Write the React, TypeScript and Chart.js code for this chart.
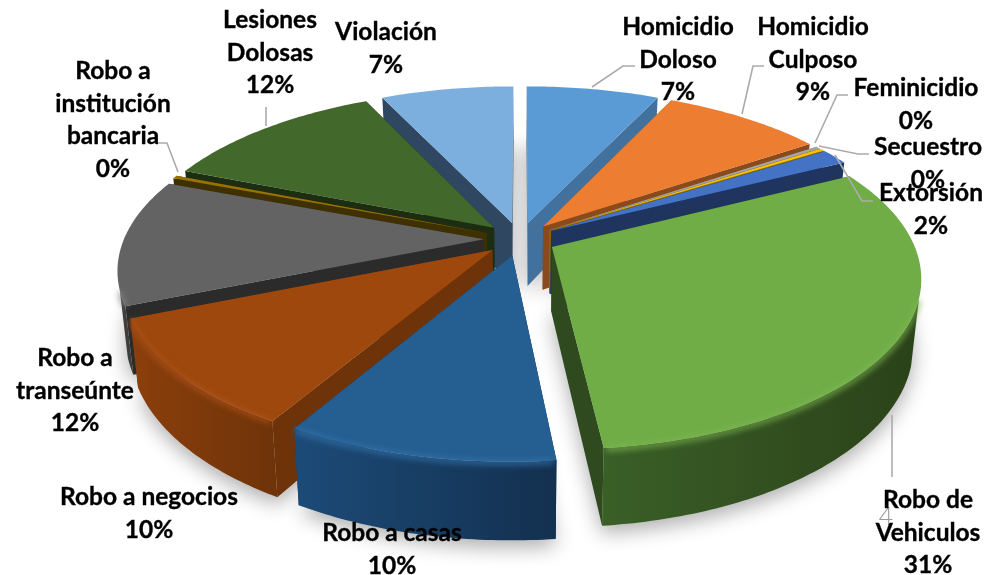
import React, { useEffect, useRef } from "react";
import { Chart, registerables } from "chart.js";

Chart.register(...registerables);

const categories = [
  "Homicidio Doloso", "Homicidio Culposo", "Feminicidio", "Secuestro", "Extorsión",
  "Robo de Vehiculos", "Robo a casas", "Robo a negocios", "Robo a transeúnte",
  "Robo a institución bancaria", "Lesiones Dolosas", "Violación",
];
const values = [7, 8.5, 0.25, 0.25, 1.5, 30.85, 10.05, 10.4, 12, 0.3, 11.9, 7];

const topColors = ["#5B9BD5", "#ED7D31", "#A5A5A5", "#FFC000", "#4472C4", "#70AD47", "#255E91", "#9E480E", "#636363", "#997300", "#43682B", "#7CAFDD"];
const sideColors = ["#41719C", "#8A4A1C", "#6E6E6E", "#8A6A00", "#1F3560", "#2E4A1E", "#163A5C", "#6E3309", "#2B2B2B", "#3F3000", "#1C2D12", "#2F4760"];
const wallLeft = ["#41719C", "#A85A24", "#777777", "#B08900", "#2A4A8A", "#3A5F27", "#1C4B78", "#8C3F0C", "#3E3E3E", "#6B5100", "#2F491E", "#50789C"];
const wallRight = ["#41719C", "#A85A24", "#777777", "#B08900", "#2A4A8A", "#2B4219", "#13304F", "#6E3309", "#3E3E3E", "#6B5100", "#2F491E", "#50789C"];
const edgeColors = ["#6FAADF", "#F39A5A", "#BBBBBB", "#FFD040", "#5C88D8", "#7DB852", "#3576AE", "#B0541A", "#808080", "#B08A10", "#5A8040", "#9CC4E8"];

const labelLines: Record<string, string[]> = {
  "Homicidio Doloso": ["Homicidio", "Doloso"],
  "Homicidio Culposo": ["Homicidio", "Culposo"],
  "Feminicidio": ["Feminicidio"],
  "Secuestro": ["Secuestro"],
  "Extorsión": ["Extorsión"],
  "Robo de Vehiculos": ["Robo de", "Vehiculos"],
  "Robo a casas": ["Robo a casas"],
  "Robo a negocios": ["Robo a negocios"],
  "Robo a transeúnte": ["Robo a", "transeúnte"],
  "Robo a institución bancaria": ["Robo a", "institución", "bancaria"],
  "Lesiones Dolosas": ["Lesiones", "Dolosas"],
  "Violación": ["Violación"],
};
const labelX = [678, 813, 916, 928, 931, 928, 392, 149, 75, 113, 270, 386];
const labelY = [27, 27, 88, 147, 193, 500, 533, 497, 358, 71, 20, 32];
const LINE_H = 32.7;

const leaders: number[][][] = [
  [[592, 87], [623, 66], [635, 66]],
  [[742, 114], [753, 66], [764, 66]],
  [[815, 143], [837, 95], [848, 95]],
  [[819, 146], [858, 154], [869, 154]],
  [[835, 155], [862, 201], [873, 201]],
  [[266, 126], [266, 107]],
  [[178, 172], [167, 143], [155, 143]],
  [[892, 415], [892, 477]],
];

const CX = 520, CY = 239, RX = 360, KY = 165, PERSP = 0.17, DEPTH = 64, EXPLODE = 0.1, BOTTOM_X = 0.98;
const WALL_FROM = (107 - 90) * Math.PI / 180;
const WALL_TO = (253 - 90) * Math.PI / 180;

function proj(u: number, v: number, z: number) {
  const s = 1 / (1 - PERSP * v);
  return { x: CX + RX * u * s * (z ? BOTTOM_X : 1), y: CY + KY * v * s + z * DEPTH * s };
}

const pie3d = {
  id: "pie3d",
  beforeDatasetDraw(chart: any) {
    const ctx: CanvasRenderingContext2D = chart.ctx;
    const meta = chart.getDatasetMeta(0);
    const slices = meta.data.map((el: any, i: number) => {
      const mid = (el.startAngle + el.endAngle) / 2;
      return { i, a0: el.startAngle, a1: el.endAngle, mid, ou: EXPLODE * Math.cos(mid), ov: EXPLODE * Math.sin(mid) };
    });
    const arcPts = (s: any, a0: number, a1: number, z: number) => {
      const n = Math.max(2, Math.ceil((a1 - a0) / 0.015));
      const out = [];
      for (let k = 0; k <= n; k++) {
        const a = a0 + ((a1 - a0) * k) / n;
        out.push(proj(s.ou + Math.cos(a), s.ov + Math.sin(a), z));
      }
      return out;
    };
    const poly = (pts: any[]) => {
      ctx.beginPath();
      pts.forEach((p, k) => (k ? ctx.lineTo(p.x, p.y) : ctx.moveTo(p.x, p.y)));
      ctx.closePath();
    };
    ctx.save();
    ctx.shadowColor = "rgba(0,0,0,0.32)";
    ctx.shadowBlur = 20;
    ctx.shadowOffsetY = 7;
    for (const s of slices) {
      const apex = proj(s.ou, s.ov, 1);
      poly([apex, ...arcPts(s, s.a0, s.a1, 1)]);
      ctx.fillStyle = "#cccccc";
      ctx.fill();
    }
    ctx.restore();

    const order = [...slices].sort((a, b) => Math.sin(a.mid) - Math.sin(b.mid));
    for (const s of order) {
      const apexT = proj(s.ou, s.ov, 0);
      const apexB = proj(s.ou, s.ov, 1);
      for (const a of [s.a0, s.a1]) {
        const t = proj(s.ou + Math.cos(a), s.ov + Math.sin(a), 0);
        const b = proj(s.ou + Math.cos(a), s.ov + Math.sin(a), 1);
        poly([apexT, t, b, apexB]);
        ctx.fillStyle = sideColors[s.i];
        ctx.fill();
      }
      const a0 = Math.max(s.a0, WALL_FROM);
      const a1 = Math.min(s.a1, WALL_TO);
      if (a1 > a0) {
        const top = arcPts(s, a0, a1, 0);
        const bot = arcPts(s, a0, a1, 1);
        const xs = top.concat(bot).map((p: any) => p.x);
        const g = ctx.createLinearGradient(Math.max(...xs), 0, Math.min(...xs), 0);
        g.addColorStop(0, wallRight[s.i]);
        g.addColorStop(1, wallLeft[s.i]);
        poly([...top, ...bot.reverse()]);
        ctx.fillStyle = g;
        ctx.fill();
      }
      const arc = arcPts(s, s.a0, s.a1, 0);
      poly([apexT, ...arc]);
      ctx.fillStyle = topColors[s.i];
      ctx.fill();
      if (a1 > a0 && s.a1 - s.a0 > 0.1) {
        const front = arcPts(s, a0 + 0.005, a1 - 0.005, 0);
        ctx.save();
        ctx.filter = "blur(3px)";
        ctx.beginPath();
        front.forEach((p: any, k: number) => (k ? ctx.lineTo(p.x, p.y + 1) : ctx.moveTo(p.x, p.y + 1)));
        ctx.strokeStyle = edgeColors[s.i];
        ctx.lineWidth = 4;
        ctx.stroke();
        ctx.restore();
      }
    }
    return false;
  },
  afterDraw(chart: any) {
    const ctx: CanvasRenderingContext2D = chart.ctx;
    ctx.save();
    ctx.strokeStyle = "#ABABAB";
    ctx.lineWidth = 1.6;
    for (const l of leaders) {
      ctx.beginPath();
      l.forEach((p, k) => (k ? ctx.lineTo(p[0], p[1]) : ctx.moveTo(p[0], p[1])));
      ctx.stroke();
    }
    ctx.font = "300 25px Lato";
    ctx.textAlign = "center";
    ctx.textBaseline = "middle";
    ctx.fillStyle = "#999999";
    ctx.fillText("4", 886, 517);
    ctx.font = "bold 24.5px Lato";
    ctx.fillStyle = "#000000";
    ctx.strokeStyle = "#000000";
    ctx.lineWidth = 0.35;
    const total = values.reduce((a, b) => a + b, 0);
    categories.forEach((c, i) => {
      const lines = [...labelLines[c], `${Math.round((values[i] / total) * 100 + 1e-9)}%`];
      lines.forEach((t, k) => {
        ctx.fillText(t, labelX[i], labelY[i] + k * LINE_H);
        ctx.strokeText(t, labelX[i], labelY[i] + k * LINE_H);
      });
    });
    ctx.restore();
  },
};

export default function App() {
  const ref = useRef<HTMLCanvasElement>(null);
  useEffect(() => {
    const chart = new Chart(ref.current as HTMLCanvasElement, {
      type: "pie",
      data: { labels: categories, datasets: [{ data: values, backgroundColor: topColors, borderWidth: 0 }] },
      options: {
        animation: false,
        responsive: false,
        events: [],
        plugins: { legend: { display: false }, tooltip: { enabled: false } },
      },
      plugins: [pie3d],
    } as any);
    return () => chart.destroy();
  }, []);
  return (
    <div style={{ position: "absolute", left: 0, top: 0, width: 987, height: 575, overflow: "hidden", background: "#fff" }}>
      <canvas ref={ref} width={987} height={575} style={{ display: "block" }} />
    </div>
  );
}
